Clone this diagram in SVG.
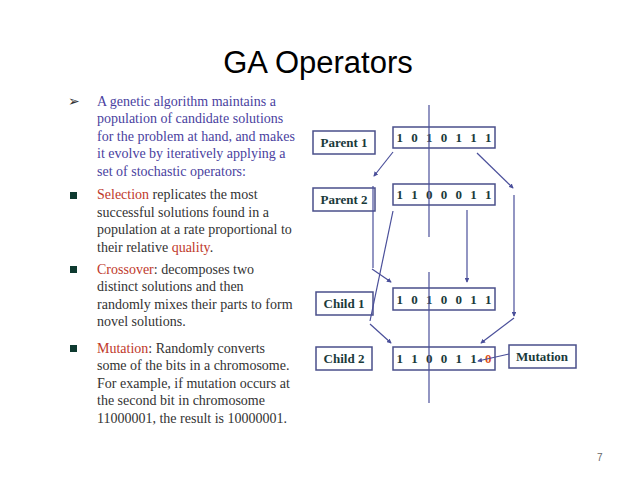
<svg xmlns="http://www.w3.org/2000/svg" width="638" height="479" viewBox="0 0 638 479">
<style>
.t{font-family:"Liberation Serif",serif;font-size:14px;fill:#333}
.b{fill:#4a3fa0}
.r{fill:#c0392b}
.lbl{font-family:"Liberation Serif",serif;font-size:13px;font-weight:bold;fill:#1a3a3a;text-anchor:middle}
.bits{font-family:"Liberation Serif",serif;font-size:13px;font-weight:bold;fill:#1a3a3a;text-anchor:middle;word-spacing:5px}
.box{fill:#fff;stroke:#4a4f8a;stroke-width:1.5}
.c line{stroke:#4a4f9a;stroke-width:1.2;fill:none}
</style>
<defs><marker id="a" viewBox="0 0 6 6" refX="5" refY="3" markerWidth="4" markerHeight="4" orient="auto"><path d="M0,0L6,3L0,6z" fill="#4a4f9a"/></marker></defs>
<rect width="638" height="479" fill="#fff"/>
<text x="318" y="73" font-family="Liberation Sans,sans-serif" font-size="31" text-anchor="middle" fill="#000">GA Operators</text>
<text x="597" y="461" font-family="Liberation Sans,sans-serif" font-size="10" fill="#666">7</text>
<g id="text">
<text x="68" y="106" class="t">➢</text>
<text class="t b"><tspan x="97" y="106">A genetic algorithm maintains a</tspan><tspan x="97" y="123">population of candidate solutions</tspan><tspan x="97" y="141">for the problem at hand, and makes</tspan><tspan x="97" y="158">it evolve by iteratively applying a</tspan><tspan x="97" y="176">set of stochastic operators:</tspan></text>
<rect x="70" y="192" width="7" height="7" fill="#0e3a30"/>
<rect x="70" y="266" width="7" height="7" fill="#0e3a30"/>
<rect x="70" y="345" width="7" height="7" fill="#0e3a30"/>
<text class="t"><tspan x="97" y="199"><tspan class="r">Selection</tspan> replicates the most</tspan><tspan x="97" y="217">successful solutions found in a</tspan><tspan x="97" y="234">population at a rate proportional to</tspan><tspan x="97" y="252">their relative <tspan class="r">quality</tspan>.</tspan></text>
<text class="t"><tspan x="97" y="274"><tspan class="r">Crossover</tspan>: decomposes two</tspan><tspan x="97" y="291">distinct solutions and then</tspan><tspan x="97" y="309">randomly mixes their parts to form</tspan><tspan x="97" y="326">novel solutions.</tspan></text>
<text class="t"><tspan x="97" y="353"><tspan class="r">Mutation</tspan>: Randomly converts</tspan><tspan x="97" y="370">some of the bits in a chromosome.</tspan><tspan x="97" y="388">For example, if mutation occurs at</tspan><tspan x="97" y="405">the second bit in chromosome</tspan><tspan x="97" y="423">11000001, the result is 10000001.</tspan></text>
</g>
<g id="p1l"><rect class="box" x="313" y="131" width="62" height="23"/><text class="lbl" x="344" y="147">Parent 1</text></g>
<g id="p2l"><rect class="box" x="313" y="188" width="62" height="23"/><text class="lbl" x="344" y="204">Parent 2</text></g>
<g id="c1l"><rect class="box" x="316" y="292" width="57" height="23"/><text class="lbl" x="344" y="308">Child 1</text></g>
<g id="c2l"><rect class="box" x="316" y="347" width="56" height="23"/><text class="lbl" x="344" y="363">Child 2</text></g>
<g id="mut"><rect class="box" x="509" y="345" width="67" height="23"/><text class="lbl" x="542" y="361">Mutation</text></g>
<g id="p1"><rect class="box" x="393" y="127" width="102" height="21"/><text class="bits" x="444" y="142">1 0 1 0 1 1 1</text></g>
<g id="p2"><rect class="box" x="393" y="184" width="102" height="21"/><text class="bits" x="444" y="199">1 1 0 0 0 1 1</text></g>
<g id="c1"><rect class="box" x="393" y="288" width="102" height="22"/><text class="bits" x="444" y="304">1 0 1 0 0 1 1</text></g>
<g id="c2"><rect class="box" x="393" y="347" width="102" height="23"/><text class="bits" x="444" y="363">1 1 0 0 1 1 <tspan fill="#e0501a">0</tspan></text></g>
<g class="c">
<line x1="429" y1="105" x2="429" y2="237" stroke="#3a3f8a"/>
<line x1="429" y1="272" x2="429" y2="403" stroke="#3a3f8a"/>
<line x1="393" y1="152" x2="374" y2="176" marker-end="url(#a)"/>
<line x1="373" y1="186" x2="373" y2="268"/>
<line x1="372" y1="269" x2="391" y2="282" marker-end="url(#a)"/>
<line x1="393" y1="211" x2="370" y2="321"/>
<line x1="370" y1="324" x2="391" y2="343" marker-end="url(#a)"/>
<line x1="467" y1="210" x2="467" y2="282" marker-end="url(#a)"/>
<line x1="477" y1="153" x2="513" y2="188" marker-end="url(#a)"/>
<line x1="514" y1="195" x2="514" y2="316" marker-end="url(#a)"/>
<line x1="514" y1="318" x2="481" y2="343" marker-end="url(#a)"/>
<line x1="509" y1="354" x2="478" y2="361" marker-end="url(#a)"/>
</g>
</svg>
